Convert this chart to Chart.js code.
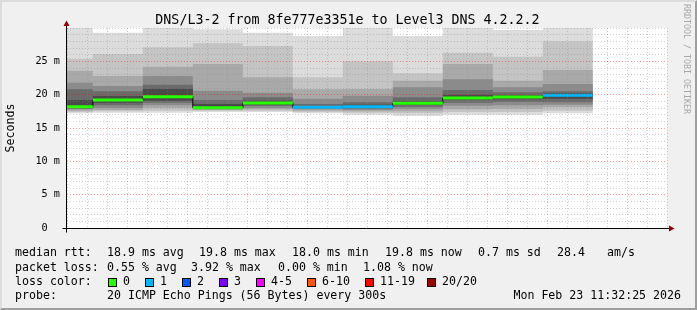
<!DOCTYPE html>
<html>
<head>
<meta charset="utf-8">
<script src="https://cdn.jsdelivr.net/npm/chart.js@4.4.1/dist/chart.umd.min.js"></script>
<style>
  body { margin: 0; background: #f0f0f0; }
  #wrap { position: relative; width: 697px; height: 310px; overflow: hidden; background: #f0f0f0; }
  #frame { position: absolute; left: 0; top: 0; width: 697px; height: 310px; box-sizing: border-box;
    border: 2px solid; border-color: #dcdcdc #9e9e9e #9e9e9e #dcdcdc; pointer-events: none; }
  canvas { position: absolute; left: 0; top: 0; }
  .t { position: absolute; font-family: "DejaVu Sans Mono", monospace; white-space: pre; color: #000; line-height: 1; }
  .title { font-size: 13.3px; left: 0; width: 695px; text-align: center; top: 13px; }
  .lg { font-size: 11.6px; }
  .box { position: absolute; width: 7px; height: 7px; border: 1px solid #000; }
  .wm { position: absolute; left: 683px; top: 4px; font-family: "DejaVu Sans Mono", monospace; font-size: 8.3px;
    line-height: 1; color: #a8a8a8; writing-mode: vertical-rl; white-space: pre; }
</style>
</head>
<body>
<div id="wrap">
  <canvas id="chart" width="697" height="310"></canvas>
  <div class="t title">DNS/L3-2 from 8fe777e3351e to Level3 DNS 4.2.2.2</div>
  <div class="wm">RRDTOOL / TOBI OETIKER</div>

  <div class="t lg" style="left:15px;top:247px">median rtt:</div>
  <div class="t lg" style="left:107px;top:247px">18.9 ms avg</div>
  <div class="t lg" style="left:199px;top:247px">19.8 ms max</div>
  <div class="t lg" style="left:292px;top:247px">18.0 ms min</div>
  <div class="t lg" style="left:385px;top:247px">19.8 ms now</div>
  <div class="t lg" style="left:478px;top:247px">0.7 ms sd</div>
  <div class="t lg" style="left:557px;top:247px">28.4</div>
  <div class="t lg" style="left:607px;top:247px">am/s</div>

  <div class="t lg" style="left:15px;top:262px">packet loss:</div>
  <div class="t lg" style="left:107px;top:262px">0.55 % avg</div>
  <div class="t lg" style="left:191px;top:262px">3.92 % max</div>
  <div class="t lg" style="left:278px;top:262px">0.00 % min</div>
  <div class="t lg" style="left:363px;top:262px">1.08 % now</div>

  <div class="t lg" style="left:15px;top:276px">loss color:</div>
  <div id="lossLegend"></div>

  <div class="t lg" style="left:15px;top:290px">probe:</div>
  <div class="t lg" style="left:107px;top:290px">20 ICMP Echo Pings (56 Bytes) every 300s</div>
  <div class="t lg" style="right:16px;top:290px">Mon Feb 23 11:32:25 2026</div>
  <div id="frame"></div>
</div>
<script>
// time in minutes after 10:00, one 5 minute slot per column
const slotStart = [30, 35, 40, 45, 50, 55, 60, 65, 70, 75, 80]
const slotEnd = 85
const viewStart = 32 + 25 / 60
const viewEnd = 92 + 25 / 60

// median rtt (ms) and lost pings (of 20) per slot
const median = [18.2, 19.2, 19.7, 18.05, 18.75, 18.1, 18.2, 18.7, 19.5, 19.65, 19.9]
const lost = [0, 0, 0, 0, 0, 1, 1, 0, 0, 0, 1]

// smoke bands, outer (1) to inner (6), upper and lower edge in ms
const upper1 = [30.5, 29.3, 30.5, 29.8, 29.3, 28.8, 30.5, 28.8, 30.5, 29.7, 30.5]
const upper2 = [25.4, 26.1, 27.1, 27.7, 27.3, 22.6, 25.0, 23.2, 26.3, 25.7, 28.0]
const upper3 = [23.6, 22.8, 24.2, 24.6, 22.6, 20.8, 20.85, 22.1, 24.6, 22.1, 23.7]
const upper4 = [21.8, 21.3, 22.8, 20.6, 20.3, 19.4, 19.85, 21.1, 22.3, 21.1, 21.6]
const upper5 = [20.8, 20.5, 21.5, 19.2, 19.6, 18.6, 18.85, 19.6, 20.7, 20.35, 20.5]
const upper6 = [19.2, 19.8, 20.9, 18.6, 19.1, 18.3, 18.5, 19.0, 20.0, 19.9, 20.2]
const lower1 = [17.2, 17.3, 17.3, 17.4, 17.4, 17.2, 17.0, 16.8, 17.0, 17.0, 17.2]
const lower2 = [17.4, 17.5, 17.6, 17.6, 17.6, 17.4, 17.3, 17.2, 17.4, 17.4, 17.6]
const lower3 = [17.6, 17.7, 18.0, 17.7, 17.8, 17.6, 17.5, 17.5, 17.8, 17.9, 18.1]
const lower4 = [17.8, 18.0, 18.4, 17.8, 18.0, 17.8, 17.7, 17.9, 18.35, 18.4, 18.5]
const lower5 = [17.9, 18.4, 18.8, 17.9, 18.3, 17.9, 17.9, 18.2, 18.8, 18.9, 18.85]
const lower6 = [18.0, 18.8, 19.1, 17.95, 18.5, 18.0, 18.0, 18.45, 19.2, 19.3, 19.4]

// tick labels
const xLabelAt = [40, 50, 60, 70, 80, 90]
const xLabels = ["10:40", "10:50", "11:00", "11:10", "11:20", "11:30"]
const yLabelAt = [0, 5, 10, 15, 20, 25]
const yLabels = ["0  ", "5 m", "10 m", "15 m", "20 m", "25 m"]

// loss legend
const lossNames = ["0", "1", "2", "3", "4-5", "6-10", "11-19", "20/20"]
const lossColors = ["#26ff00", "#00b8ff", "#0059ff", "#7e00ff", "#ff00ff", "#ff5500", "#ff0000", "#a10000"]
const lossBoxX = [108, 145, 182, 219, 256, 307, 365, 427]

const bandGrays = ["#dcdcdc", "#c4c4c4", "#a9a9a9", "#8b8b8b", "#6b6b6b", "#4a4a4a"]
const uppers = [upper1, upper2, upper3, upper4, upper5, upper6]
const lowers = [lower1, lower2, lower3, lower4, lower5, lower6]

const mono = "'DejaVu Sans Mono', monospace"

// legend boxes
const lossLegend = document.getElementById("lossLegend")
lossLegend.innerHTML = lossNames
  .map((name, i) => `
    <div class="box" style="left:${lossBoxX[i]}px;top:278px;background:${lossColors[i]}"></div>
    <div class="t lg" style="left:${lossBoxX[i] + 15}px;top:276px">${name}</div>`)
  .join("")

// each value holds until the next slot starts
function stepPoints(values) {
  const pts = slotStart.map((x, i) => ({ x: x, y: values[i] }))
  pts.push({ x: slotEnd, y: values[values.length - 1] })
  return pts
}

// median as separate pieces so each slot gets its own loss colour
const medianPieces = []
slotStart.forEach((x, i) => {
  const end = i + 1 < slotStart.length ? slotStart[i + 1] : slotEnd
  medianPieces.push({ x: x, y: median[i] }, { x: end, y: median[i] }, { x: end, y: null })
})

const datasets = [
  {
    data: medianPieces,
    borderColor: lossColors[0],
    borderWidth: 3,
    borderCapStyle: "butt",
    spanGaps: false,
    pointRadius: 0,
    clip: 0,
    order: 0,
    segment: {
      borderColor: (ctx) => lossColors[lost[Math.floor(ctx.p0DataIndex / 3)]],
    },
  },
  {
    data: stepPoints(median),
    stepped: "before",
    borderColor: "#000",
    borderWidth: 1,
    pointRadius: 0,
    clip: 0,
    order: 1,
  },
]

bandGrays.forEach((gray, k) => {
  datasets.push({
    data: stepPoints(uppers[k]),
    stepped: "before",
    fill: "+1",
    backgroundColor: gray,
    borderColor: "rgba(0,0,0,0)",
    borderWidth: 0,
    pointRadius: 0,
    clip: 0,
    order: 100 - k,
  })
  datasets.push({
    data: stepPoints(lowers[k]),
    stepped: "before",
    fill: false,
    borderColor: "rgba(0,0,0,0)",
    borderWidth: 0,
    pointRadius: 0,
    clip: 0,
    order: 100 - k,
  })
})

// white canvas, axis lines and arrows
const rrdFrame = {
  id: "rrdFrame",
  beforeDraw(chart) {
    const { ctx, chartArea: a } = chart
    ctx.save()
    ctx.fillStyle = "#fff"
    ctx.fillRect(a.left, a.top, a.right - a.left, a.bottom - a.top)
    ctx.restore()
  },
  afterDraw(chart) {
    const { ctx, chartArea: a } = chart
    const ax = a.left - 0.5
    const ay = a.bottom + 0.5
    ctx.save()
    ctx.strokeStyle = "#000"
    ctx.lineWidth = 1
    ctx.beginPath()
    ctx.moveTo(ax, ay + 4)
    ctx.lineTo(ax, a.top - 4)
    ctx.moveTo(ax - 4, ay)
    ctx.lineTo(a.right + 3, ay)
    ctx.stroke()
    ctx.fillStyle = "#8f0000"
    ctx.beginPath()
    ctx.moveTo(ax, a.top - 7.5)
    ctx.lineTo(ax - 3, a.top - 2)
    ctx.lineTo(ax + 3, a.top - 2)
    ctx.closePath()
    ctx.fill()
    ctx.beginPath()
    ctx.moveTo(a.right + 7.5, ay)
    ctx.lineTo(a.right + 2, ay - 3)
    ctx.lineTo(a.right + 2, ay + 3)
    ctx.closePath()
    ctx.fill()
    ctx.restore()
  },
}

const gridColor = (v, majorStep, maxV) =>
  v % majorStep === 0 && v > 0 && v < maxV ? "rgba(255,0,0,0.38)" : "rgba(140,140,140,0.4)"

new Chart(document.getElementById("chart"), {
  type: "line",
  data: { datasets: datasets },
  options: {
    responsive: false,
    animation: false,
    events: [],
    layout: { padding: { left: 0, top: 28, right: 30, bottom: 62 } },
    plugins: { legend: { display: false }, tooltip: { enabled: false } },
    scales: {
      x: {
        type: "linear",
        min: viewStart,
        max: viewEnd,
        afterFit: (s) => { s.height = 20 },
        ticks: {
          stepSize: 2,
          includeBounds: false,
          autoSkip: false,
          maxRotation: 0,
          padding: 3,
          color: "#000",
          font: { family: mono, size: 10.2 },
          callback: (v) => {
            const i = xLabelAt.indexOf(v)
            return i >= 0 ? xLabels[i] : ""
          },
        },
        grid: {
          z: 1,
          drawTicks: false,
          color: (ctx) => gridColor(ctx.tick ? ctx.tick.value : 1, 10, 1000),
        },
        border: { display: false, dash: [1, 2] },
      },
      y: {
        type: "linear",
        min: 0,
        max: 30,
        afterFit: (s) => { s.width = 67 },
        ticks: {
          stepSize: 1,
          autoSkip: false,
          padding: 7,
          color: "#000",
          font: { family: mono, size: 10.2 },
          callback: (v) => {
            const i = yLabelAt.indexOf(v)
            return i >= 0 ? yLabels[i] : ""
          },
        },
        title: {
          display: true,
          text: "Seconds",
          color: "#000",
          font: { family: mono, size: 11.6 },
          padding: { top: 4, bottom: 0 },
        },
        grid: {
          z: 1,
          drawTicks: false,
          color: (ctx) => gridColor(ctx.tick ? ctx.tick.value : 1, 5, 30),
        },
        border: { display: false, dash: [1, 2] },
      },
    },
  },
  plugins: [rrdFrame],
})
</script>
</body>
</html>
